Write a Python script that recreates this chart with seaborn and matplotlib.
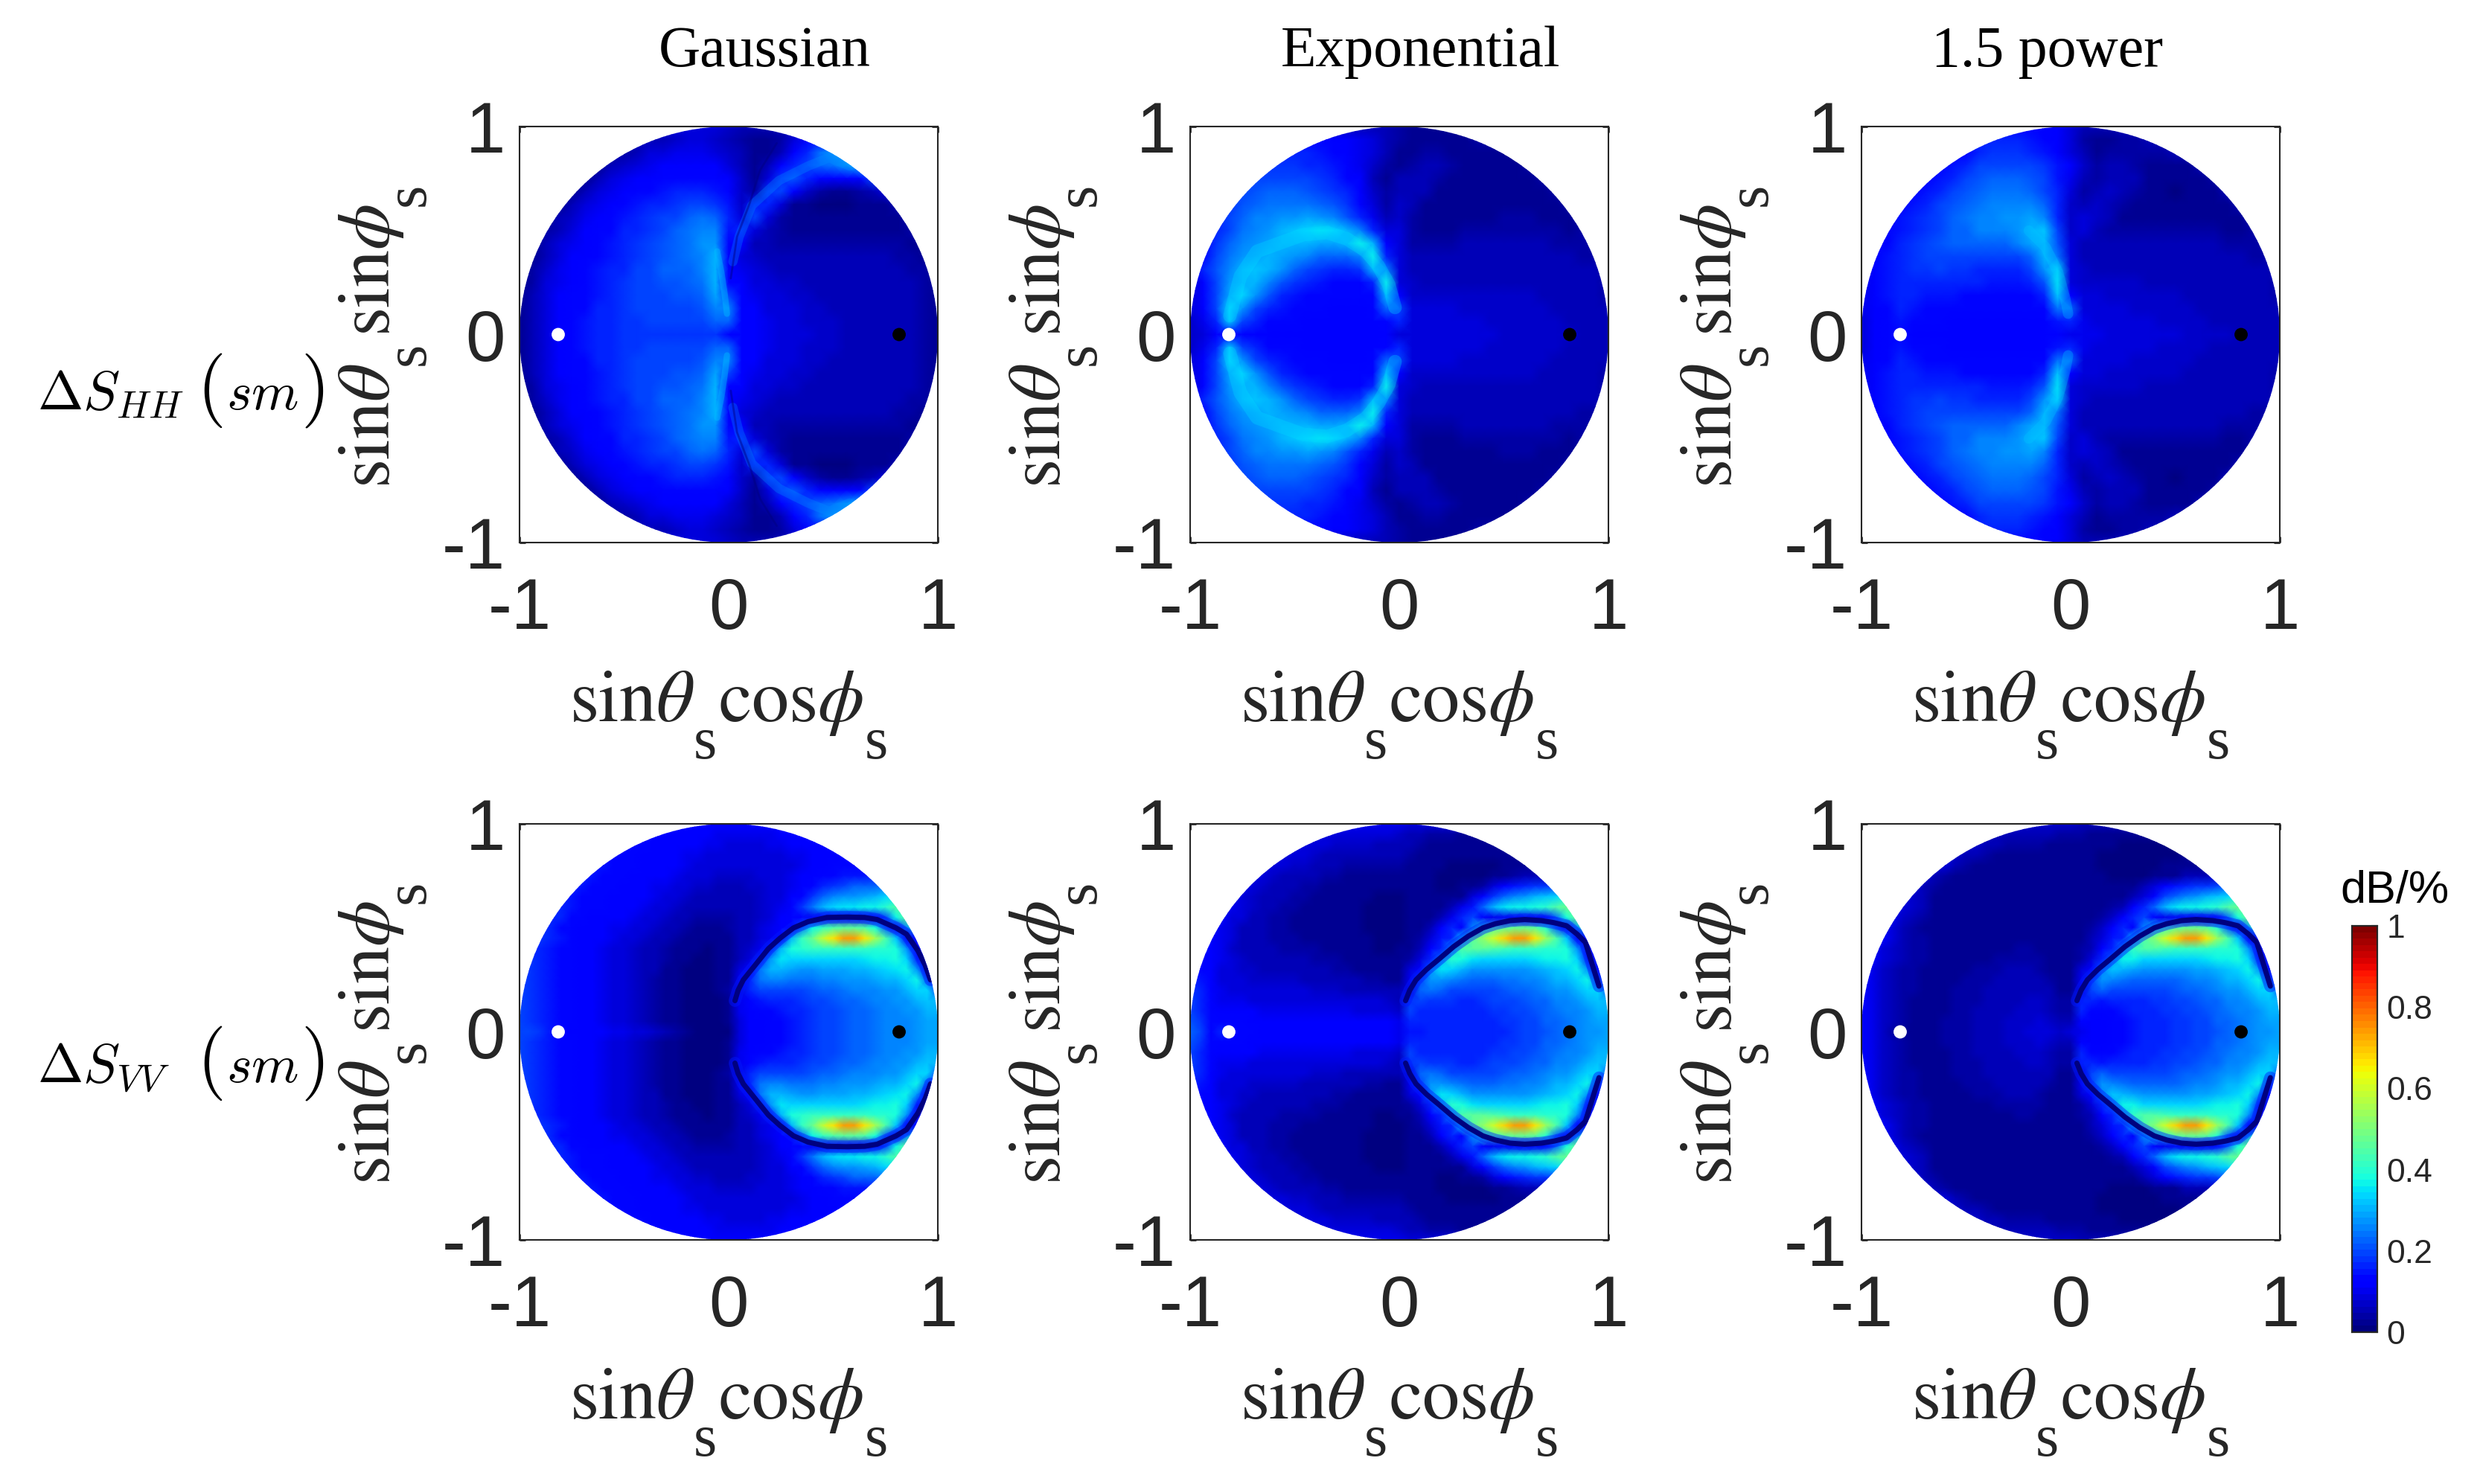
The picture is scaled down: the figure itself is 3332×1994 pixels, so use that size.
#!/usr/bin/env python3
# -*- coding: utf-8 -*-
"""Six sky maps of the scattering sensitivity, smooth shaded seaborn heatmaps."""

import numpy as np
import matplotlib
matplotlib.use('Agg')
import matplotlib.pyplot as plt
from matplotlib.patches import Circle
import seaborn as sns

# Values are dB/% x 100. Each list is one row of the upper half
# of the disk (top row first), only the samples inside the disk, rows are centred.
# HH maps: sample step 1/16, VV maps: sample step 0.05.
HH_GAUSSIAN = [
    [8, 7, 6],
    [5, 6, 7, 8, 8, 7, 6, 4, 3, 2, 4, 8, 13],
    [4, 6, 8, 9, 10, 10, 10, 9, 7, 5, 2, 3, 6, 11, 17, 24, 27],
    [3, 5, 7, 9, 10, 11, 12, 12, 12, 11, 9, 6, 2, 5, 11, 17, 20, 22, 24, 28, 30],
    [3, 5, 8, 10, 11, 12, 13, 14, 14, 14, 13, 11, 7, 2, 9, 18, 21, 17, 14, 12, 12, 14, 20],
    [3, 5, 8, 10, 12, 13, 14, 15, 16, 17, 16, 15, 13, 7, 4, 18, 20, 12, 7, 4, 3, 3, 4, 5, 8],
    [3, 5, 8, 10, 12, 13, 15, 16, 17, 18, 19, 20, 18, 15, 7, 17, 16, 8, 3, 2, 1, 1, 1, 2, 2, 3, 5],
    [3, 5, 7, 10, 12, 13, 15, 16, 18, 19, 20, 22, 24, 23, 17, 8, 19, 8, 4, 3, 2, 2, 2, 2, 2, 2, 3, 3, 5],
    [4, 6, 9, 11, 13, 14, 16, 17, 18, 20, 22, 24, 26, 26, 15, 16, 9, 5, 4, 3, 3, 3, 3, 3, 3, 3, 3, 3, 4],
    [3, 5, 8, 10, 12, 13, 15, 16, 18, 19, 21, 23, 24, 27, 28, 13, 11, 6, 5, 4, 4, 4, 4, 4, 4, 4, 4, 4, 4, 3, 3],
    [3, 6, 9, 11, 12, 14, 15, 17, 18, 20, 21, 23, 24, 26, 30, 12, 9, 7, 6, 5, 5, 5, 5, 5, 5, 5, 5, 5, 4, 4, 3],
    [3, 4, 7, 10, 12, 13, 15, 16, 17, 19, 20, 22, 22, 23, 25, 31, 11, 10, 8, 7, 6, 6, 5, 5, 5, 5, 5, 5, 5, 5, 4, 4, 3],
    [3, 4, 8, 10, 12, 14, 15, 16, 18, 19, 20, 21, 21, 22, 24, 31, 13, 11, 9, 8, 7, 7, 6, 6, 6, 5, 5, 5, 5, 5, 5, 4, 3],
    [3, 5, 8, 11, 13, 14, 15, 17, 18, 19, 20, 20, 21, 21, 23, 29, 20, 12, 10, 9, 8, 7, 7, 6, 6, 6, 5, 5, 5, 5, 5, 4, 3],
    [3, 5, 9, 11, 13, 14, 16, 17, 18, 19, 19, 20, 20, 20, 21, 26, 25, 12, 11, 9, 8, 8, 7, 7, 6, 6, 6, 5, 5, 5, 5, 4, 3],
    [3, 5, 9, 11, 13, 15, 16, 17, 18, 18, 19, 19, 19, 19, 20, 22, 22, 12, 11, 10, 9, 8, 7, 7, 7, 6, 6, 6, 5, 5, 5, 4, 3],
    [3, 5, 9, 12, 13, 15, 16, 17, 18, 18, 18, 18, 18, 18, 18, 18, 14, 12, 11, 10, 9, 8, 8, 7, 7, 6, 6, 6, 6, 5, 5, 4, 3],
]
HH_EXPONENTIAL = [
    [6, 4, 3],
    [13, 12, 11, 10, 8, 6, 4, 3, 3, 3, 3, 3, 4],
    [17, 16, 15, 14, 12, 10, 8, 5, 3, 3, 4, 4, 3, 3, 3, 3, 3],
    [18, 18, 18, 17, 16, 15, 13, 10, 7, 4, 3, 4, 5, 5, 4, 3, 3, 3, 3, 3, 4],
    [20, 20, 20, 20, 19, 18, 16, 14, 11, 6, 3, 5, 6, 6, 4, 2, 2, 2, 2, 3, 3, 3, 4],
    [19, 21, 22, 22, 22, 21, 20, 18, 16, 12, 7, 4, 6, 6, 5, 3, 2, 2, 2, 2, 3, 3, 3, 3, 4],
    [18, 21, 23, 24, 24, 24, 24, 23, 21, 18, 13, 8, 4, 7, 5, 3, 2, 2, 2, 3, 3, 3, 3, 3, 3, 3, 4],
    [16, 20, 23, 25, 26, 27, 28, 29, 28, 25, 21, 17, 10, 5, 7, 4, 3, 2, 3, 3, 3, 3, 4, 4, 4, 3, 3, 3, 4],
    [16, 20, 24, 26, 28, 30, 32, 34, 35, 34, 30, 25, 17, 8, 8, 4, 3, 3, 3, 4, 4, 4, 4, 4, 4, 4, 4, 3, 4],
    [13, 18, 22, 25, 28, 29, 30, 30, 30, 29, 29, 31, 36, 30, 11, 9, 4, 4, 4, 4, 5, 5, 5, 5, 5, 5, 5, 4, 4, 4, 4],
    [14, 19, 24, 27, 29, 30, 29, 27, 25, 23, 22, 23, 25, 36, 16, 8, 5, 5, 5, 5, 5, 5, 5, 5, 5, 5, 5, 5, 5, 4, 4],
    [10, 16, 21, 26, 30, 32, 31, 27, 23, 20, 18, 17, 17, 18, 30, 26, 8, 6, 5, 5, 5, 5, 6, 6, 6, 6, 6, 5, 5, 5, 5, 5, 4],
    [9, 14, 20, 27, 31, 30, 26, 21, 18, 16, 15, 14, 14, 14, 17, 36, 9, 7, 6, 6, 6, 6, 6, 6, 6, 6, 6, 6, 6, 5, 5, 5, 4],
    [8, 13, 20, 29, 33, 27, 21, 17, 15, 14, 13, 13, 13, 13, 14, 30, 12, 7, 7, 7, 7, 7, 7, 7, 7, 7, 7, 6, 6, 6, 6, 5, 4],
    [8, 12, 19, 33, 27, 20, 17, 15, 14, 13, 13, 12, 12, 12, 13, 22, 20, 8, 8, 8, 8, 7, 7, 7, 7, 7, 7, 7, 6, 6, 6, 5, 5],
    [7, 10, 16, 32, 20, 16, 14, 13, 13, 12, 12, 12, 12, 12, 12, 14, 16, 9, 9, 9, 8, 8, 8, 7, 7, 7, 7, 7, 7, 6, 6, 6, 5],
    [7, 9, 12, 14, 13, 12, 12, 12, 12, 12, 12, 12, 12, 12, 12, 11, 9, 9, 9, 9, 9, 8, 8, 8, 7, 7, 7, 7, 7, 7, 6, 6, 5],
]
HH_POWER = [
    [12, 9, 5],
    [16, 16, 16, 15, 14, 12, 9, 4, 3, 3, 4, 4, 5],
    [14, 16, 18, 18, 18, 17, 15, 12, 9, 5, 3, 4, 4, 4, 4, 4, 5],
    [13, 15, 17, 19, 20, 20, 20, 19, 18, 15, 11, 7, 4, 5, 5, 4, 3, 3, 3, 3, 5],
    [13, 15, 17, 19, 21, 22, 22, 22, 21, 19, 15, 10, 5, 4, 6, 6, 5, 3, 2, 2, 2, 3, 4],
    [13, 15, 17, 19, 21, 23, 24, 24, 24, 23, 20, 16, 8, 4, 5, 7, 6, 4, 3, 2, 1, 2, 2, 3, 5],
    [13, 15, 17, 19, 21, 23, 24, 25, 26, 26, 25, 22, 16, 7, 5, 7, 6, 4, 3, 2, 2, 2, 2, 2, 3, 3, 5],
    [13, 15, 16, 18, 20, 22, 24, 25, 26, 27, 28, 29, 25, 16, 7, 8, 7, 5, 3, 3, 3, 3, 3, 3, 3, 3, 3, 3, 5],
    [13, 15, 17, 18, 20, 22, 23, 25, 25, 26, 27, 31, 32, 19, 7, 8, 6, 4, 4, 4, 4, 4, 4, 4, 4, 4, 3, 3, 4],
    [12, 14, 16, 18, 19, 21, 22, 22, 23, 23, 23, 25, 29, 31, 21, 8, 6, 5, 5, 5, 5, 5, 5, 5, 5, 5, 5, 4, 4, 4, 4],
    [12, 15, 17, 18, 19, 20, 20, 20, 19, 19, 19, 20, 23, 30, 24, 8, 6, 6, 6, 6, 5, 5, 5, 5, 5, 5, 5, 5, 5, 4, 4],
    [10, 13, 15, 17, 18, 18, 19, 18, 18, 17, 17, 17, 17, 19, 27, 34, 8, 7, 6, 6, 6, 6, 6, 6, 6, 6, 6, 5, 5, 5, 5, 5, 4],
    [10, 13, 15, 17, 17, 17, 17, 17, 16, 16, 15, 15, 15, 17, 21, 35, 9, 7, 7, 7, 7, 7, 6, 6, 6, 6, 6, 6, 5, 5, 5, 5, 4],
    [10, 13, 15, 17, 17, 15, 15, 15, 14, 14, 14, 14, 14, 14, 16, 32, 11, 8, 8, 7, 7, 7, 7, 7, 7, 6, 6, 6, 6, 5, 5, 5, 4],
    [10, 12, 14, 17, 15, 14, 14, 13, 13, 13, 13, 13, 13, 13, 14, 24, 22, 8, 8, 8, 8, 7, 7, 7, 7, 7, 6, 6, 6, 6, 5, 5, 5],
    [9, 12, 14, 15, 14, 13, 13, 12, 12, 12, 12, 12, 12, 12, 12, 15, 17, 10, 9, 9, 8, 8, 8, 7, 7, 7, 7, 6, 6, 6, 6, 5, 5],
    [9, 11, 13, 13, 12, 12, 12, 12, 12, 12, 11, 11, 11, 11, 11, 11, 10, 10, 10, 9, 9, 9, 8, 8, 8, 7, 7, 7, 7, 6, 6, 6, 5],
]
VV_GAUSSIAN = [
    [11, 11, 11],
    [12, 12, 12, 11, 11, 11, 10, 10, 10, 10, 10, 10, 11, 11, 12],
    [13, 13, 12, 12, 11, 11, 11, 10, 10, 9, 9, 9, 9, 10, 10, 11, 11, 12, 12],
    [14, 13, 13, 12, 12, 11, 11, 10, 10, 9, 9, 9, 8, 8, 8, 9, 9, 10, 10, 11, 12, 12, 13],
    [15, 14, 13, 13, 12, 12, 11, 11, 10, 9, 9, 8, 8, 8, 8, 8, 8, 9, 9, 10, 11, 12, 13, 14, 14],
    [16, 15, 14, 14, 13, 12, 12, 11, 11, 10, 9, 8, 8, 7, 7, 7, 7, 8, 8, 9, 10, 11, 12, 13, 14, 15, 15, 15, 16],
    [16, 15, 14, 13, 13, 12, 12, 11, 10, 10, 9, 8, 7, 7, 6, 6, 6, 7, 7, 8, 9, 10, 11, 14, 16, 18, 20, 22, 22, 22, 24],
    [17, 15, 14, 14, 13, 12, 12, 11, 11, 10, 9, 8, 7, 6, 6, 5, 5, 6, 6, 7, 8, 9, 11, 14, 18, 22, 25, 27, 28, 29, 31, 33, 35],
    [17, 15, 14, 13, 13, 12, 11, 11, 10, 9, 8, 7, 6, 5, 5, 5, 5, 5, 6, 7, 8, 10, 13, 18, 24, 30, 34, 35, 35, 36, 37, 40, 45],
    [17, 16, 14, 13, 12, 12, 11, 11, 10, 9, 8, 7, 6, 5, 4, 4, 4, 4, 5, 6, 7, 9, 12, 14, 14, 10, 10, 10, 10, 10, 10, 12, 20, 36, 46],
    [18, 16, 14, 13, 12, 12, 11, 10, 10, 9, 8, 7, 6, 5, 4, 3, 3, 3, 4, 5, 6, 8, 10, 12, 12, 24, 36, 42, 44, 46, 46, 44, 38, 22, 12, 26, 42],
    [18, 16, 15, 13, 12, 11, 11, 10, 9, 8, 7, 6, 5, 4, 3, 2, 2, 2, 3, 5, 6, 8, 10, 14, 30, 42, 48, 58, 66, 74, 74, 66, 55, 44, 32, 12, 14],
    [17, 17, 15, 14, 13, 12, 11, 10, 9, 8, 7, 6, 5, 4, 3, 2, 2, 1, 2, 3, 5, 7, 10, 16, 30, 38, 40, 42, 42, 42, 42, 42, 41, 40, 40, 38, 28, 14, 10],
    [18, 17, 15, 14, 13, 12, 11, 10, 9, 8, 7, 6, 5, 4, 3, 2, 1, 1, 2, 3, 6, 9, 16, 28, 35, 34, 33, 33, 33, 33, 33, 34, 35, 36, 37, 38, 34, 16, 10],
    [18, 18, 17, 15, 14, 13, 12, 11, 10, 9, 8, 7, 6, 5, 3, 2, 1, 1, 1, 2, 3, 8, 14, 24, 30, 30, 29, 28, 28, 29, 29, 29, 30, 31, 32, 33, 35, 36, 28, 12, 8],
    [19, 18, 17, 15, 14, 13, 12, 11, 10, 9, 8, 7, 6, 4, 3, 2, 1, 1, 1, 2, 3, 10, 16, 24, 25, 25, 24, 24, 24, 25, 26, 27, 28, 28, 29, 30, 31, 33, 36, 22, 14],
    [19, 18, 17, 15, 14, 13, 12, 11, 10, 9, 8, 7, 6, 4, 3, 2, 1, 1, 1, 2, 4, 8, 16, 20, 20, 19, 19, 20, 21, 22, 23, 24, 25, 26, 26, 27, 28, 30, 33, 33, 20],
    [19, 18, 16, 15, 14, 13, 12, 11, 10, 9, 8, 7, 5, 4, 3, 2, 1, 1, 1, 1, 3, 10, 14, 15, 16, 16, 17, 18, 19, 20, 21, 22, 23, 24, 25, 26, 27, 28, 30, 32, 30],
    [19, 18, 16, 15, 14, 13, 12, 11, 10, 9, 8, 7, 5, 4, 3, 2, 1, 1, 1, 1, 3, 10, 12, 13, 14, 15, 16, 17, 18, 19, 20, 21, 22, 23, 24, 25, 26, 27, 28, 30, 30],
    [19, 18, 16, 15, 14, 13, 12, 11, 10, 9, 8, 7, 5, 4, 3, 2, 1, 1, 1, 1, 2, 9, 11, 12, 13, 14, 15, 16, 18, 19, 20, 21, 22, 23, 24, 25, 25, 26, 27, 29, 29],
    [19, 19, 18, 15, 13, 12, 12, 11, 11, 10, 10, 9, 8, 7, 5, 4, 2, 1, 1, 1, 1, 9, 11, 12, 13, 14, 15, 16, 18, 19, 20, 21, 22, 23, 24, 25, 25, 26, 27, 29, 29],
]
VV_EXPONENTIAL = [
    [10, 10, 9],
    [9, 9, 9, 9, 8, 8, 8, 7, 6, 5, 4, 4, 4, 3, 3],
    [9, 8, 8, 7, 7, 7, 7, 6, 6, 6, 5, 4, 3, 3, 3, 3, 3, 2, 2],
    [9, 8, 8, 7, 6, 6, 5, 5, 5, 5, 5, 5, 4, 3, 3, 2, 2, 2, 2, 2, 2, 2, 2],
    [9, 8, 7, 7, 6, 6, 5, 4, 4, 4, 4, 4, 4, 3, 3, 2, 2, 1, 1, 1, 1, 1, 2, 2, 3],
    [9, 8, 7, 6, 6, 5, 5, 4, 4, 3, 3, 3, 3, 3, 3, 3, 2, 2, 1, 1, 1, 1, 1, 2, 2, 4, 5, 5, 6],
    [10, 8, 7, 6, 5, 5, 4, 4, 3, 3, 3, 3, 2, 2, 2, 2, 2, 2, 2, 1, 1, 2, 2, 4, 8, 12, 15, 17, 18, 18, 20],
    [10, 8, 7, 6, 5, 5, 4, 4, 3, 3, 2, 2, 2, 2, 1, 1, 1, 2, 2, 2, 2, 2, 3, 8, 13, 18, 22, 26, 28, 30, 32, 34, 38],
    [10, 9, 7, 6, 5, 4, 4, 3, 3, 2, 2, 2, 2, 1, 1, 1, 1, 2, 2, 2, 3, 5, 10, 15, 22, 30, 35, 37, 37, 38, 40, 44, 48],
    [11, 9, 8, 6, 5, 4, 4, 3, 3, 2, 2, 2, 2, 2, 1, 1, 1, 1, 2, 2, 3, 6, 10, 16, 20, 12, 10, 10, 10, 10, 10, 12, 22, 38, 48],
    [11, 10, 8, 6, 5, 5, 4, 4, 3, 3, 3, 2, 2, 2, 2, 1, 1, 1, 1, 2, 3, 6, 12, 17, 14, 26, 38, 44, 46, 48, 48, 46, 40, 22, 12, 28, 44],
    [12, 10, 8, 6, 5, 5, 4, 4, 4, 3, 3, 3, 3, 2, 2, 2, 1, 1, 1, 2, 4, 8, 15, 16, 34, 46, 52, 60, 68, 74, 74, 66, 54, 44, 32, 12, 14],
    [13, 12, 10, 7, 6, 5, 5, 5, 4, 4, 4, 4, 3, 3, 3, 2, 2, 1, 1, 2, 3, 5, 12, 16, 32, 44, 46, 46, 44, 43, 42, 42, 41, 40, 40, 38, 28, 14, 10],
    [14, 12, 10, 8, 7, 6, 6, 5, 5, 5, 5, 4, 4, 4, 3, 3, 2, 2, 2, 2, 4, 9, 16, 30, 40, 38, 35, 34, 33, 33, 33, 34, 35, 36, 37, 38, 34, 16, 10],
    [16, 14, 11, 9, 8, 7, 7, 6, 6, 6, 6, 5, 5, 5, 4, 4, 3, 3, 3, 3, 3, 8, 14, 28, 35, 33, 30, 28, 27, 27, 27, 27, 28, 29, 30, 32, 34, 36, 28, 12, 8],
    [17, 15, 12, 9, 8, 8, 7, 7, 7, 7, 7, 6, 6, 6, 6, 5, 5, 4, 4, 3, 3, 10, 20, 28, 28, 25, 24, 23, 22, 23, 24, 24, 25, 26, 28, 30, 31, 33, 36, 22, 14],
    [18, 16, 12, 10, 9, 9, 8, 8, 8, 8, 8, 8, 7, 7, 7, 6, 6, 6, 5, 5, 5, 8, 22, 24, 22, 20, 20, 20, 20, 20, 21, 22, 23, 24, 25, 27, 28, 30, 33, 33, 20],
    [19, 16, 13, 10, 10, 10, 9, 9, 9, 9, 9, 9, 9, 9, 8, 8, 8, 8, 8, 7, 5, 18, 19, 18, 18, 18, 17, 17, 18, 19, 19, 20, 21, 22, 23, 25, 26, 28, 30, 32, 30],
    [20, 17, 13, 12, 11, 11, 11, 10, 10, 10, 10, 10, 10, 10, 10, 10, 9, 9, 9, 9, 7, 20, 17, 17, 17, 17, 17, 17, 17, 18, 18, 19, 20, 21, 22, 24, 25, 26, 28, 30, 30],
    [21, 18, 13, 14, 13, 13, 12, 12, 12, 12, 11, 11, 11, 11, 11, 11, 11, 11, 11, 11, 10, 17, 16, 16, 16, 17, 17, 17, 17, 17, 18, 18, 19, 20, 22, 23, 24, 26, 27, 29, 29],
    [22, 19, 14, 16, 14, 13, 13, 12, 12, 12, 12, 11, 11, 11, 11, 11, 11, 11, 11, 11, 10, 15, 15, 16, 16, 16, 16, 16, 17, 17, 17, 18, 19, 20, 21, 22, 24, 25, 27, 28, 29],
]
VV_POWER = [
    [7, 7, 6],
    [6, 6, 5, 5, 5, 5, 4, 4, 4, 3, 3, 2, 2, 2, 2],
    [7, 6, 5, 4, 4, 4, 4, 3, 3, 3, 3, 2, 2, 2, 1, 1, 1, 1, 1],
    [7, 6, 5, 4, 3, 3, 3, 3, 3, 3, 3, 3, 2, 2, 1, 1, 1, 1, 1, 1, 1, 1, 2],
    [8, 6, 4, 3, 3, 3, 2, 2, 2, 2, 2, 2, 2, 2, 2, 1, 1, 1, 1, 1, 1, 2, 2, 2, 3],
    [8, 6, 4, 3, 3, 2, 2, 2, 2, 2, 2, 2, 2, 2, 2, 2, 2, 2, 1, 1, 1, 1, 2, 2, 3, 5, 6, 6, 7],
    [8, 6, 4, 3, 3, 2, 2, 2, 2, 2, 2, 2, 2, 2, 2, 2, 2, 2, 2, 2, 2, 3, 5, 9, 12, 15, 17, 18, 18, 20, 22],
    [9, 7, 5, 3, 3, 2, 2, 2, 2, 2, 2, 2, 2, 2, 2, 2, 2, 2, 2, 2, 2, 3, 5, 9, 14, 19, 23, 26, 28, 30, 32, 34, 38],
    [9, 7, 5, 3, 3, 3, 2, 2, 2, 2, 2, 2, 2, 2, 2, 2, 2, 2, 2, 3, 4, 6, 11, 16, 23, 30, 35, 37, 37, 38, 40, 44, 48],
    [10, 7, 5, 4, 3, 3, 3, 2, 2, 2, 2, 2, 2, 2, 2, 2, 2, 2, 2, 3, 4, 7, 11, 16, 20, 12, 10, 10, 10, 10, 10, 12, 22, 38, 48],
    [10, 8, 5, 4, 3, 3, 3, 3, 2, 2, 2, 2, 3, 3, 3, 3, 2, 2, 2, 3, 4, 7, 12, 16, 14, 25, 37, 42, 46, 48, 48, 46, 40, 22, 12, 28, 44],
    [11, 8, 5, 4, 4, 3, 3, 2, 2, 2, 3, 3, 3, 3, 3, 3, 3, 2, 2, 3, 5, 9, 15, 16, 32, 44, 50, 60, 68, 74, 74, 66, 54, 44, 32, 12, 14],
    [11, 9, 7, 5, 4, 4, 3, 3, 2, 2, 3, 3, 3, 3, 4, 4, 3, 3, 2, 2, 4, 6, 12, 16, 30, 42, 44, 44, 43, 42, 42, 42, 41, 40, 40, 38, 28, 14, 10],
    [12, 9, 7, 5, 4, 4, 3, 2, 2, 3, 3, 3, 4, 4, 4, 4, 4, 3, 2, 2, 4, 9, 16, 28, 37, 36, 34, 33, 33, 33, 33, 34, 35, 36, 37, 38, 34, 16, 10],
    [12, 10, 7, 5, 4, 4, 3, 3, 3, 3, 3, 4, 4, 4, 5, 5, 5, 4, 3, 2, 2, 8, 14, 26, 32, 31, 29, 27, 27, 27, 27, 28, 29, 29, 30, 32, 34, 36, 28, 12, 8],
    [12, 10, 7, 5, 4, 4, 3, 3, 3, 3, 4, 4, 4, 5, 5, 6, 5, 5, 4, 3, 3, 10, 20, 27, 26, 24, 23, 22, 22, 23, 23, 24, 25, 26, 28, 30, 31, 33, 36, 22, 14],
    [12, 10, 7, 5, 4, 4, 3, 3, 3, 4, 4, 4, 5, 5, 6, 6, 6, 6, 5, 3, 3, 8, 20, 22, 20, 19, 19, 19, 19, 20, 21, 22, 23, 24, 25, 27, 28, 30, 33, 33, 20],
    [11, 10, 7, 5, 4, 3, 3, 3, 3, 4, 4, 4, 5, 6, 6, 6, 7, 7, 5, 4, 4, 16, 16, 15, 16, 16, 16, 17, 18, 18, 19, 20, 21, 22, 23, 25, 26, 28, 30, 32, 30],
    [11, 10, 7, 5, 4, 3, 3, 3, 3, 4, 4, 5, 5, 6, 6, 7, 7, 7, 6, 4, 4, 16, 13, 13, 14, 15, 16, 16, 17, 18, 18, 19, 20, 21, 22, 24, 25, 26, 28, 30, 30],
    [11, 10, 7, 5, 4, 3, 3, 3, 4, 4, 4, 5, 5, 6, 7, 7, 7, 8, 7, 5, 5, 13, 12, 12, 13, 14, 15, 16, 17, 17, 18, 18, 19, 20, 22, 23, 24, 26, 27, 29, 29],
    [11, 10, 7, 4, 3, 3, 3, 3, 4, 4, 4, 5, 5, 6, 7, 7, 8, 8, 8, 7, 8, 10, 11, 12, 13, 14, 15, 16, 17, 17, 18, 18, 19, 20, 21, 22, 24, 25, 27, 28, 29],
]

# Thin curves in the maps, upper branches
NULL_X_GAUSSIAN = [0.03, 0.045, 0.07, 0.11, 0.15, 0.19, 0.245, 0.31, 0.38, 0.47, 0.565, 0.65, 0.71, 0.80, 0.85, 0.905, 0.94, 0.965]
NULL_Y_GAUSSIAN = [0.15, 0.20, 0.25, 0.30, 0.35, 0.40, 0.45, 0.50, 0.53, 0.55, 0.552, 0.55, 0.54, 0.50, 0.47, 0.39, 0.32, 0.25]
NULL_X_OTHER = [0.03, 0.05, 0.08, 0.13, 0.19, 0.26, 0.33, 0.40, 0.46, 0.53, 0.60, 0.68, 0.74, 0.80, 0.85, 0.89, 0.93, 0.955]
NULL_Y_OTHER = [0.15, 0.20, 0.25, 0.30, 0.35, 0.41, 0.46, 0.50, 0.52, 0.535, 0.54, 0.535, 0.525, 0.51, 0.47, 0.43, 0.30, 0.22]
SEAM_X_GAUSSIAN = [0.01, 0.04, 0.10, 0.15, 0.23]
SEAM_Y_GAUSSIAN = [0.27, 0.47, 0.63, 0.79, 0.92]
RIDGE_X_GAUSSIAN = [-0.055, -0.035, -0.02, -0.008]
RIDGE_Y_GAUSSIAN = [0.40, 0.30, 0.20, 0.10]
ARC_X_GAUSSIAN = [0.02, 0.05, 0.11, 0.24, 0.38, 0.48, 0.58]
ARC_Y_GAUSSIAN = [0.35, 0.47, 0.62, 0.74, 0.81, 0.85, 0.81]
RIDGE_X_EXPONENTIAL = [-0.81, -0.76, -0.68, -0.57, -0.46, -0.345, -0.25, -0.157, -0.10, -0.05, -0.02]
RIDGE_Y_EXPONENTIAL = [0.09, 0.28, 0.40, 0.44, 0.48, 0.49, 0.46, 0.40, 0.33, 0.24, 0.13]
RIDGE_X_POWER = [-0.20, -0.12, -0.06, -0.025, -0.012]
RIDGE_Y_POWER = [0.50, 0.42, 0.30, 0.17, 0.10]

MODEL_TITLES = ['Gaussian', 'Exponential', '1.5 power']
ROW_NAMES = [r'$\Delta S_{HH}$', r'$\Delta S_{VV}$']
AXIS_TICKS = [-1, 0, 1]
COLORBAR_TICKS = [0, 0.2, 0.4, 0.6, 0.8, 1]
DOT_X = [-0.815, 0.815]
DOT_Y = [0, 0]
DOT_COLORS = ['white', 'black']

WIDTH, HEIGHT = 3332, 1994
TEXT_COLOR = '#262626'
AX_W, AX_H = 562, 559


def pixel_axes(fig, left, top, width, height):
    """Adds axes placed in pixels measured from the top left corner."""
    return fig.add_axes([left / WIDTH, 1 - (top + height) / HEIGHT, width / WIDTH, height / HEIGHT])


def pixel_text(fig, x, y, text, **kwargs):
    """Writes text at a position in pixels measured from the top left corner."""
    return fig.text(x / WIDTH, 1 - y / HEIGHT, text, **kwargs)


def full_grid(half_rows):
    """Pads the rows to the square width and mirrors them below the horizontal axis."""
    size = max(len(row) for row in half_rows)
    padded = []
    for row in half_rows:
        before = (size - len(row)) // 2
        padded.append(np.pad(row, (before, size - len(row) - before), mode='edge'))
    padded = np.array(padded, dtype=float) / 100
    return np.vstack([padded, padded[-2::-1]])


def draw_curve(ax, xs, ys, disk, last, color, width, alpha=1.0):
    """Draws one thin curve and its mirror image, given in sky coordinates."""
    for sign in [1, -1]:
        col = [(x + 1) / 2 * last for x in xs]
        row = [(1 - sign * y) / 2 * last for y in ys]
        line, = ax.plot(col, row, color=color, lw=width, alpha=alpha, solid_capstyle='round')
        line.set_clip_path(disk)


def draw_panel(ax, half_rows, cmap, curves, cbar_ax=None):
    """Draws one disk map with its axes, the two dots and the tick labels."""
    grid = full_grid(half_rows)
    last = grid.shape[0] - 1
    sns.heatmap(grid, ax=ax, cmap=cmap, vmin=0, vmax=1, shading='gouraud',
                xticklabels=False, yticklabels=False,
                cbar=cbar_ax is not None, cbar_ax=cbar_ax,
                cbar_kws={'ticks': COLORBAR_TICKS})
    ax.set_xlim(0, last)
    ax.set_ylim(last, 0)

    # Cut the smooth mesh to the unit disk
    disk = Circle((last / 2, last / 2), last / 2, transform=ax.transData)
    ax.collections[0].set_clip_path(disk)

    for xs, ys, color, width, alpha in curves:
        draw_curve(ax, xs, ys, disk, last, color, width, alpha)

    # Dots are given in sky coordinates, the heatmap runs on sample indices
    dot_col = [(x + 1) / 2 * last for x in DOT_X]
    dot_row = [(1 - y) / 2 * last for y in DOT_Y]
    ax.scatter(dot_col, dot_row, c=DOT_COLORS, s=165, linewidths=0, zorder=4)

    ax.set_xticks([(v + 1) / 2 * last for v in AXIS_TICKS], labels=[str(v) for v in AXIS_TICKS])
    ax.set_yticks([(1 - v) / 2 * last for v in AXIS_TICKS], labels=[str(v) for v in AXIS_TICKS], rotation=0)
    ax.tick_params(axis='x', direction='in', length=6, width=2, color=TEXT_COLOR,
                   labelcolor=TEXT_COLOR, labelsize=69, pad=33, bottom=True, top=True)
    ax.tick_params(axis='y', direction='in', length=6, width=2, color=TEXT_COLOR,
                   labelcolor=TEXT_COLOR, labelsize=69, pad=14, left=True, right=True)
    for spine in ax.spines.values():
        spine.set_visible(True)
        spine.set_linewidth(1.5)
        spine.set_color(TEXT_COLOR)


def draw_axis_names(fig, left, top):
    """Writes the two axis names of a panel, main parts and large subscripts apart."""
    center = left + AX_W / 2
    bottom = top + AX_H
    base = {'color': TEXT_COLOR, 'va': 'baseline'}
    pixel_text(fig, center - 214, bottom + 240, r'$\mathrm{sin}\theta$', ha='left', fontsize=72, **base)
    pixel_text(fig, center - 32, bottom + 290, 's', ha='center', fontsize=58, family='Liberation Serif', **base)
    pixel_text(fig, center - 14, bottom + 240, r'$\mathrm{cos}\phi$', ha='left', fontsize=72, **base)
    pixel_text(fig, center + 198, bottom + 290, 's', ha='center', fontsize=58, family='Liberation Serif', **base)

    middle = top + AX_H / 2
    turned = {'color': TEXT_COLOR, 'va': 'baseline', 'rotation': 90, 'rotation_mode': 'anchor'}
    pixel_text(fig, left - 175, middle + 206, r'$\mathrm{sin}\theta$', ha='left', fontsize=72, **turned)
    pixel_text(fig, left - 128, middle + 26, 's', ha='center', fontsize=58, family='Liberation Serif', **turned)
    pixel_text(fig, left - 175, middle + 2, r'$\mathrm{sin}\phi$', ha='left', fontsize=72, **turned)
    pixel_text(fig, left - 128, middle - 188, 's', ha='center', fontsize=58, family='Liberation Serif', **turned)


def draw_row_name(fig, name, baseline):
    """Writes the row name with its tall brackets."""
    opts = {'va': 'baseline', 'ha': 'left', 'color': 'black', 'math_fontfamily': 'cm'}
    pixel_text(fig, 50, baseline, name, fontsize=53, **opts)
    pixel_text(fig, 264, baseline, '$($', fontsize=72, **opts)
    pixel_text(fig, 304, baseline, '$sm$', fontsize=52, **opts)
    pixel_text(fig, 404, baseline, '$)$', fontsize=72, **opts)


sns.set_theme(style='white')
plt.rcParams['font.family'] = ['Liberation Sans', 'DejaVu Sans']
plt.rcParams['mathtext.fontset'] = 'stix'

fig = plt.figure(figsize=(WIDTH / 100, HEIGHT / 100), dpi=100)
jet = plt.get_cmap('jet', 64)

panels = [[HH_GAUSSIAN, HH_EXPONENTIAL, HH_POWER], [VV_GAUSSIAN, VV_EXPONENTIAL, VV_POWER]]
panel_curves = [
    [
        [(ARC_X_GAUSSIAN, ARC_Y_GAUSSIAN, '#0090ff', 9, 0.3),
         (SEAM_X_GAUSSIAN, SEAM_Y_GAUSSIAN, '#00007f', 2, 0.45),
         (RIDGE_X_GAUSSIAN, RIDGE_Y_GAUSSIAN, '#00c0ff', 6, 0.4)],
        [(RIDGE_X_EXPONENTIAL, RIDGE_Y_EXPONENTIAL, '#00dcff', 13, 0.3)],
        [(RIDGE_X_POWER, RIDGE_Y_POWER, '#00c8ff', 10, 0.3)],
    ],
    [
        [(NULL_X_GAUSSIAN, NULL_Y_GAUSSIAN, '#0018ff', 12, 0.45),
         (NULL_X_GAUSSIAN, NULL_Y_GAUSSIAN, '#00007f', 5, 1.0)],
        [(NULL_X_OTHER, NULL_Y_OTHER, '#0018ff', 12, 0.45),
         (NULL_X_OTHER, NULL_Y_OTHER, '#00007f', 5, 1.0)],
        [(NULL_X_OTHER, NULL_Y_OTHER, '#0018ff', 12, 0.45),
         (NULL_X_OTHER, NULL_Y_OTHER, '#00007f', 5, 1.0)],
    ],
]
lefts = [698, 1599, 2501]
tops = [170, 1107]
title_x = [1027, 1908, 2751]

cax = pixel_axes(fig, 3160, 1244, 34, 546)

for r, top in enumerate(tops):
    for c, left in enumerate(lefts):
        ax = pixel_axes(fig, left, top, AX_W, AX_H)
        is_last = r == 1 and c == 2
        draw_panel(ax, panels[r][c], jet, panel_curves[r][c], cbar_ax=cax if is_last else None)
        draw_axis_names(fig, left, top)

for c, title in enumerate(MODEL_TITLES):
    pixel_text(fig, title_x[c], 70, title, ha='center', va='center',
               fontsize=56, family='Liberation Serif', color='black')

draw_row_name(fig, ROW_NAMES[0], 550)
draw_row_name(fig, ROW_NAMES[1], 1454)

# Colorbar frame and ticks
cax.tick_params(axis='y', direction='in', length=6, width=1.5, color=TEXT_COLOR,
                labelcolor=TEXT_COLOR, labelsize=32, pad=9, right=True)
cax.set_yticklabels(['0', '0.2', '0.4', '0.6', '0.8', '1'])
for spine in cax.spines.values():
    spine.set_visible(True)
    spine.set_linewidth(1.5)
    spine.set_color(TEXT_COLOR)
pixel_text(fig, 3217, 1198, 'dB/%', ha='center', va='center', fontsize=44, color='black')

fig.savefig('out.png', dpi=100)
